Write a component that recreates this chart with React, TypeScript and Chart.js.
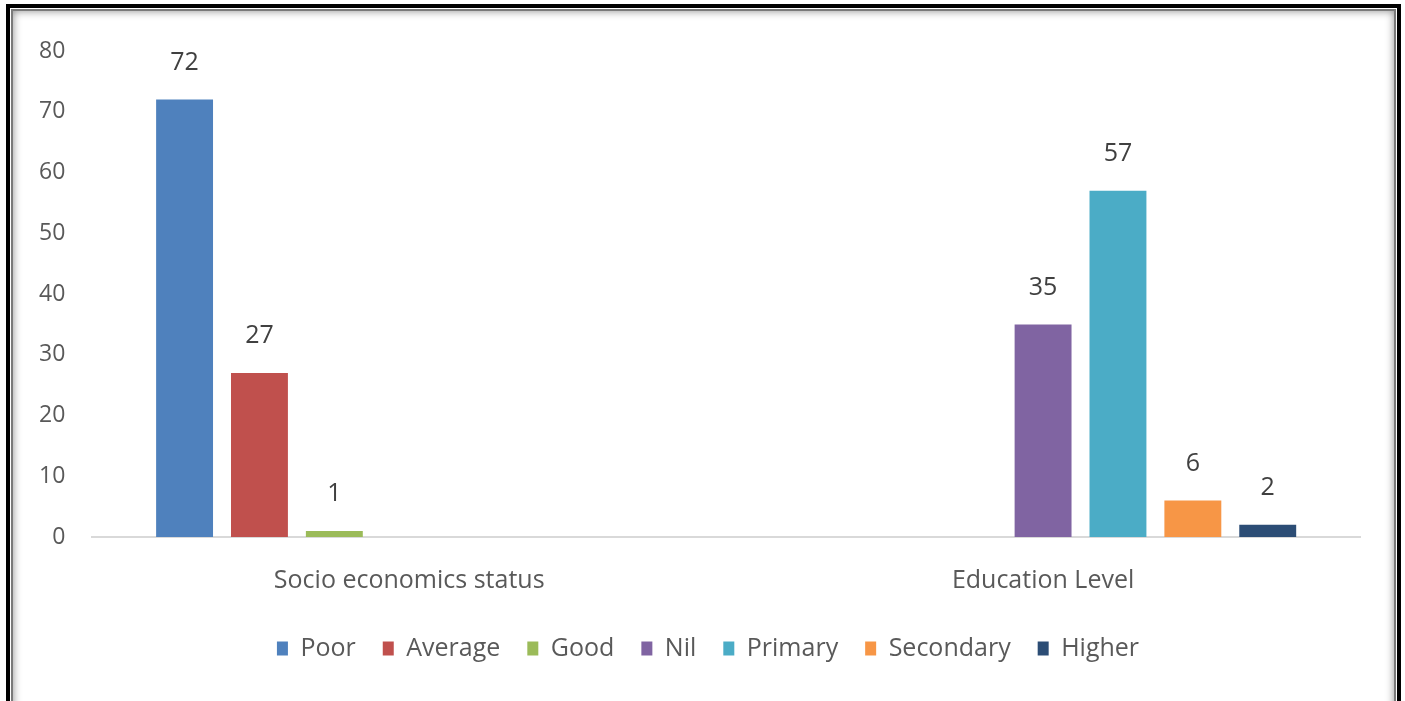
import React, { useEffect, useRef } from "react";
import { Chart, registerables } from "chart.js";

Chart.register(...registerables);

const categories = ["Socio economics status", "Education Level"];
const seriesNames = ["Poor", "Average", "Good", "Nil", "Primary", "Secondary", "Higher"];
const poor = [72, null];
const average = [27, null];
const good = [1, null];
const nil = [null, 35];
const primary = [null, 57];
const secondary = [null, 6];
const higher = [null, 2];
const seriesColors = ["#4F81BD", "#C0504D", "#9BBB59", "#8064A2", "#4BACC6", "#F79646", "#2C4D75"];
const yTicks = [0, 10, 20, 30, 40, 50, 60, 70, 80];

const FONT = "'Open Sans', 'DejaVu Sans', sans-serif";

const labelPlugin = {
  id: "valueLabels",
  afterDatasetsDraw(chart: any) {
    const ctx = chart.ctx;
    ctx.save();
    ctx.font = `25px ${FONT}`;
    ctx.fillStyle = "#404040";
    ctx.textAlign = "center";
    ctx.textBaseline = "middle";
    chart.data.datasets.forEach((ds: any, i: number) => {
      const meta = chart.getDatasetMeta(i);
      meta.data.forEach((el: any, j: number) => {
        const v = ds.data[j];
        if (v === null || v === undefined) return;
        ctx.fillText(String(v), el.x, el.y - 37);
      });
    });
    ctx.restore();
  },
};

const legendShift = {
  id: "legendShift",
  afterLayout(chart: any) {
    if (chart.legend) {
      chart.legend.left += 22;
      chart.legend.right += 22;
    }
  },
};

export default function App() {
  const ref = useRef<HTMLCanvasElement>(null);
  useEffect(() => {
    if (!ref.current) return;
    const all = [poor, average, good, nil, primary, secondary, higher];
    const chart = new Chart(ref.current, {
      type: "bar",
      data: {
        labels: categories,
        datasets: seriesNames.map((n, i) => ({
          label: n,
          data: all[i] as any,
          backgroundColor: seriesColors[i],
          borderWidth: 0,
          categoryPercentage: 0.827,
          barPercentage: 0.76,
        })),
      },
      options: {
        animation: false,
        responsive: false,
        maintainAspectRatio: false,
        layout: { padding: { left: 12, right: 45, top: 51, bottom: 30 } },
        plugins: {
          legend: {
            position: "bottom",
            labels: {
              font: { family: FONT, size: 25 },
              color: "#595959",
              boxWidth: 11,
              boxHeight: 14,
              padding: 27,
            },
          },
          tooltip: { enabled: false },
        },
        scales: {
          x: {
            grid: { display: false, drawTicks: false },
            border: { display: true, color: "#D9D9D9", width: 2 },
            ticks: { font: { family: FONT, size: 25 }, color: "#595959", padding: 29 },
            afterFit: (scale: any) => {
              scale.height = scale.height - 16;
            },
          },
          y: {
            min: 0,
            max: 80,
            afterBuildTicks: (axis: any) => {
              axis.ticks = yTicks.map((v) => ({ value: v }));
            },
            grid: { display: false, drawTicks: false },
            border: { display: false },
            ticks: { font: { family: FONT, size: 23 }, color: "#595959", padding: 27 },
          },
        },
      },
      plugins: [labelPlugin, legendShift],
    });
    return () => chart.destroy();
  }, []);

  return (
    <div
      style={{
        position: "fixed",
        left: 0,
        top: 0,
        width: 1405,
        height: 701,
        background: "#fff",
        overflow: "hidden",
      }}
    >
      <div
        style={{
          position: "absolute",
          left: 6,
          top: 4,
          width: 1395,
          height: 720,
          boxSizing: "border-box",
          border: "4px solid #000",
        }}
      >
        <div
          style={{
            position: "absolute",
            left: 1,
            top: 1,
            right: 1,
            bottom: 1,
            border: "2px solid #7a7a7a",
            boxShadow: "inset 0 0 9px rgba(0,0,0,0.45)",
          }}
        />
      </div>
      <canvas
        ref={ref}
        width={1405}
        height={701}
        style={{ position: "absolute", left: 0, top: 0, width: 1405, height: 701 }}
      />
    </div>
  );
}
